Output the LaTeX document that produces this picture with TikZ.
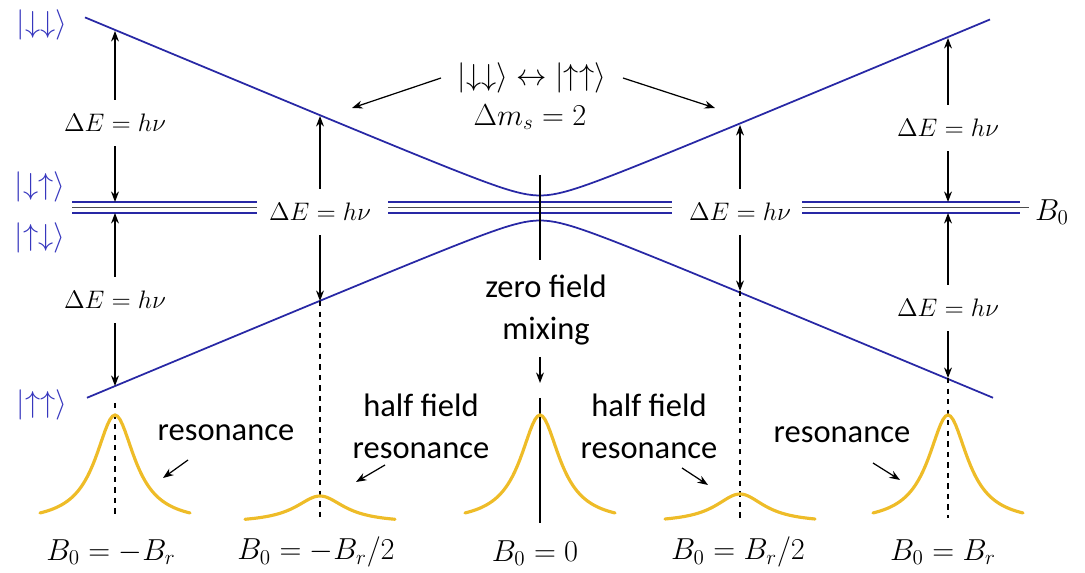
\documentclass[tikz,border=0pt]{standalone}
\usepackage{amsmath}
\usepackage{fontspec}
\setsansfont{Carlito}
\usepackage{tikz}
\usetikzlibrary{arrows.meta}
\definecolor{levelblue}{RGB}{40,40,165}
\definecolor{ketblue}{RGB}{55,55,190}
\definecolor{peakgold}{RGB}{238,188,40}
\tikzset{
  level/.style={levelblue,line width=1pt},
  axisline/.style={black!70,line width=1.1pt},
  arr/.style={-{Stealth[length=6pt,width=4.5pt]},line width=0.7pt},
  guide/.style={dashed,line width=0.9pt},
  peakline/.style={peakgold,line width=1.8pt,line cap=round},
  ket/.style={text=ketblue,font=\fontsize{17}{20}\selectfont},
  elabel/.style={font=\fontsize{15}{18}\selectfont,inner ysep=8pt},
  blabel/.style={font=\fontsize{18}{21}\selectfont},
  note/.style={font=\fontsize{18.5}{24}\selectfont\sffamily,align=center}
}
\newcommand{\peak}[3]{
\draw[peakline] plot[domain=-75:75,samples=61] ({#1+\x},{523-#2/(1+(\x/#3)^2)});
}
\newcommand{\splitting}[5]{
\node[elabel] (#1) at (#2,#3) {$\Delta E = h\nu$};
\coordinate (#1top) at (#2,#4);
\coordinate (#1bot) at (#2,#5);
\draw[arr] (#1) -- (#1top);
\draw[arr] (#1) -- (#1bot);
}

\begin{document}
\begin{tikzpicture}[x=0.02cm,y=-0.02cm]
    \useasboundingbox (0,0) rectangle (1085,573);
    % energy levels
    \node[blabel] (bzero) at (1052,212) {$B_0$};
    \coordinate (axisend) at (1020,207.5);
    \draw[axisline] (axisend) -- (axisend -| bzero.west);
    \foreach \a/\b in {72/257,388/672,802/1020} {
        \draw[axisline] (\a,207.5) -- (\b,207.5);
        \draw[level] (\a,202) -- (\b,202);
        \draw[level] (\a,213) -- (\b,213);
    }
    \draw[level] plot[domain=85:990,samples=181] (\x,{208-veclen(0.418*(\x-540),12.5)});
    \draw[level] plot[domain=87:993,samples=181] (\x,{208+veclen(0.418*(\x-540),12.5)});
    \node[ket] (dd) at (42,25) {$|{\downarrow}{\downarrow}\rangle$};
    \node[ket] (du) at (40,187) {$|{\downarrow}{\uparrow}\rangle$};
    \node[ket] (ud) at (40,238) {$|{\uparrow}{\downarrow}\rangle$};
    \node[ket] (uu) at (42,405) {$|{\uparrow}{\uparrow}\rangle$};
    % transitions
    \splitting{sa}{115}{123}{31}{202}
    \splitting{sb}{115}{300}{213}{386}
    \splitting{ha}{320}{212}{116}{301}
    \splitting{hb}{740}{212}{125}{291}
    \splitting{sc}{948}{128}{38}{202}
    \splitting{sd}{948}{308}{213}{378}
    \node[blabel] (flip) at (532,78) {$|{\downarrow}{\downarrow}\rangle \leftrightarrow |{\uparrow}{\uparrow}\rangle$};
    \node[blabel] (dms) at (530,117) {$\Delta m_s = 2$};
    \coordinate (flipL) at (352,108);
    \coordinate (flipR) at (715,108);
    \draw[arr] ([xshift=-6pt]flip.west) -- (flipL);
    \draw[arr] ([xshift=6pt]flip.east) -- (flipR);
    % guides down to the spectrum
    \draw[guide] (115,403) -- (115,515);
    \draw[guide] (habot) -- (320,518);
    \draw[guide] (hbbot) -- (740,518);
    \draw[guide] (sdbot) -- (948,518);
    \draw[line width=0.9pt] (540,175) -- (540,260);
    \draw[line width=0.9pt] (540,398) -- (540,523);
    % spectrum
    \peak{115}{108}{24}
    \peak{320}{27}{30}
    \peak{540}{108}{24}
    \peak{740}{29}{30}
    \peak{948}{108}{24}
    \node[note] (resL) at (226,433) {resonance};
    \node[note] (halfL) at (421,426) {half field\\resonance};
    \node[note] (zero) at (546,310) {zero field\\mixing};
    \node[note] (halfR) at (649,426) {half field\\resonance};
    \node[note] (resR) at (842,435) {resonance};
    \coordinate (resLtip) at (163,478);
    \coordinate (halfLtip) at (356,482);
    \coordinate (zerotip) at (540,383);
    \coordinate (halfRtip) at (708,485);
    \coordinate (resRtip) at (900,480);
    \draw[arr] ([shift={(-38,27)}]resL.center) -- (resLtip);
    \draw[arr] ([shift={(-36,39)}]halfL.center) -- (halfLtip);
    \draw[arr] ([shift={(-6,47)}]zero.center) -- (zerotip);
    \draw[arr] ([shift={(33,42)}]halfR.center) -- (halfRtip);
    \draw[arr] ([shift={(31,28)}]resR.center) -- (resRtip);
    \node[blabel] (ba) at (111,552) {$B_0 = -B_r$};
    \node[blabel] (bb) at (316,552) {$B_0 = -B_r/2$};
    \node[blabel] (bc) at (535,553) {$B_0 = 0$};
    \node[blabel] (bd) at (738,552) {$B_0 = B_r/2$};
    \node[blabel] (be) at (943,552) {$B_0 = B_r$};
\end{tikzpicture}
\end{document}
